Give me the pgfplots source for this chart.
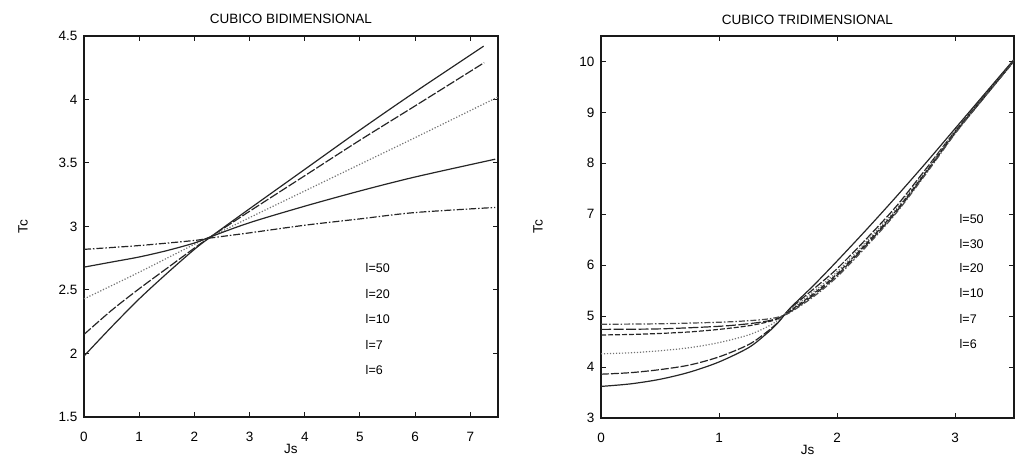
\documentclass[border=0pt]{standalone}
\usepackage{pgfplots}
\pgfplotsset{compat=1.18}
\usepackage{fontspec}
\setmainfont{Liberation Sans}

\newcommand{\lbl}{\fontsize{13.5}{15}\selectfont}
\newcommand{\tagfont}{\fontsize{12.5}{14}\selectfont}

\tikzset{tag/.style={anchor=west, font=\tagfont, text=black}}

\pgfplotsset{
  cubico/.style={
    scale only axis,
    anchor=south west,
    axis line style={line width=1.2pt, black!90},
    tick align=inside,
    major tick length=5pt,
    tick style={line width=1pt, black!90},
    /pgf/number format/assume math mode=true,
    every tick label/.append style={font=\lbl, text=black},
    xticklabel style={anchor=center, yshift=-20pt},
    yticklabel style={xshift=-3pt},
    title style={font=\lbl, text=black, at={(0.5,1)}, anchor=base, yshift=6pt},
    xlabel style={at={(axis description cs:0.5,-0.083)}, anchor=center, font=\lbl, text=black},
    ylabel style={anchor=center, font=\lbl, text=black},
    cycle list={{black!85, solid}},
    every axis plot/.append style={line width=1.2pt, black!85, smooth, no markers},
  },
}

\begin{document}
\begin{tikzpicture}[x=1pt,y=1pt]
\useasboundingbox (0,0) rectangle (1015,457);

% ---------- square lattice ----------
\begin{axis}[cubico,
  at={(84pt,40pt)}, width=414pt, height=381pt,
  xmin=0, xmax=7.5, ymin=1.5, ymax=4.5,
  xtick={0,1,...,7}, ytick={1.5,2,2.5,3,3.5,4,4.5},
  title={CUBICO BIDIMENSIONAL},
  xlabel={Js}, ylabel={Tc},
  ylabel style={at={(axis description cs:-0.147,0.5)}},
]
% l=6
\addplot[solid] coordinates {(0,1.98) (0.5,2.21) (1,2.43) (1.5,2.63) (2,2.82) (2.3,2.92) (3,3.14) (4,3.45) (5,3.76) (6,4.06) (7.24,4.42)};
% l=7
\addplot[dash pattern=on 9pt off 2pt] coordinates {(0,2.15) (0.5,2.34) (1,2.51) (1.5,2.67) (2,2.83) (2.3,2.92) (3,3.12) (4,3.40) (5,3.68) (6,3.95) (7.25,4.29)};
% l=10
\addplot[dash pattern=on 1.2pt off 1.8pt, black!55] coordinates {(0,2.43) (1,2.64) (2,2.86) (2.3,2.92) (3,3.07) (4,3.28) (5,3.49) (6,3.70) (7.5,4.02)};
% l=20
\addplot[solid] coordinates {(0,2.68) (0.5,2.72) (1,2.76) (1.5,2.81) (2,2.87) (2.3,2.92) (3,3.03) (4,3.16) (5,3.28) (6,3.39) (7.45,3.53)};
% l=50
\addplot[dash pattern=on 7pt off 2pt on 1.5pt off 2pt] coordinates {(0,2.82) (1,2.85) (2,2.89) (2.3,2.91) (3,2.95) (4,3.01) (5,3.06) (6,3.11) (7.45,3.15)};

\node[tag] at (axis cs:5.04,2.67) {l=50};
\node[tag] at (axis cs:5.04,2.47) {l=20};
\node[tag] at (axis cs:5.04,2.27) {l=10};
\node[tag] at (axis cs:5.04,2.07) {l=7};
\node[tag] at (axis cs:5.04,1.87) {l=6};
\end{axis}

% ---------- cubic lattice ----------
\begin{axis}[cubico,
  at={(601pt,39pt)}, width=413pt, height=382pt,
  xmin=0, xmax=3.5, ymin=3, ymax=10.5,
  xtick={0,1,2,3}, ytick={3,4,...,10},
  title={CUBICO TRIDIMENSIONAL},
  xlabel={Js}, ylabel={Tc},
  ylabel style={at={(axis description cs:-0.1525,0.5)}},
]
% l=6
\addplot[solid] coordinates {(0,3.62) (0.25,3.67) (0.5,3.76) (0.75,3.90) (1,4.10) (1.25,4.38) (1.4,4.65) (1.5,4.87) (1.6,5.15) (1.8,5.60) (2,6.08) (2.25,6.70) (2.5,7.34) (2.75,8.00) (3,8.68) (3.25,9.36) (3.5,10.04)};
% l=7
\addplot[dash pattern=on 8pt off 2pt] coordinates {(0,3.86) (0.25,3.89) (0.5,3.95) (0.75,4.04) (1,4.20) (1.25,4.44) (1.4,4.68) (1.5,4.88) (1.6,5.14) (1.8,5.53) (2,5.93) (2.25,6.52) (2.5,7.15) (2.75,7.88) (3,8.63) (3.25,9.33) (3.5,10.02)};
% l=10
\addplot[dash pattern=on 1.2pt off 1.8pt, black!55] coordinates {(0,4.26) (0.25,4.28) (0.5,4.32) (0.75,4.38) (1,4.48) (1.25,4.63) (1.4,4.78) (1.5,4.92) (1.6,5.12) (1.8,5.48) (2,5.87) (2.25,6.47) (2.5,7.10) (2.75,7.85) (3,8.62) (3.25,9.32) (3.5,10.02)};
% l=20
\addplot[dash pattern=on 5pt off 2pt] coordinates {(0,4.63) (0.25,4.64) (0.5,4.66) (0.75,4.69) (1,4.74) (1.25,4.81) (1.4,4.88) (1.5,4.95) (1.6,5.10) (1.8,5.44) (2,5.83) (2.25,6.43) (2.5,7.07) (2.75,7.82) (3,8.60) (3.25,9.31) (3.5,10.01)};
% l=30
\addplot[dash pattern=on 10pt off 2.5pt] coordinates {(0,4.74) (0.5,4.75) (1,4.80) (1.25,4.85) (1.4,4.90) (1.5,4.96) (1.6,5.08) (1.8,5.41) (2,5.80) (2.25,6.40) (2.5,7.04) (2.75,7.80) (3,8.59) (3.25,9.30) (3.5,10.01)};
% l=50
\addplot[dash pattern=on 6pt off 2pt on 1.5pt off 2pt, black!70] coordinates {(0,4.84) (0.5,4.85) (1,4.88) (1.25,4.91) (1.4,4.94) (1.5,4.98) (1.6,5.07) (1.8,5.38) (2,5.77) (2.25,6.37) (2.5,7.02) (2.75,7.78) (3,8.58) (3.25,9.30) (3.5,10.00)};

\node[tag] at (axis cs:3.01,6.91) {l=50};
\node[tag] at (axis cs:3.01,6.42) {l=30};
\node[tag] at (axis cs:3.01,5.94) {l=20};
\node[tag] at (axis cs:3.01,5.45) {l=10};
\node[tag] at (axis cs:3.01,4.95) {l=7};
\node[tag] at (axis cs:3.01,4.45) {l=6};
\end{axis}
\end{tikzpicture}
\end{document}
